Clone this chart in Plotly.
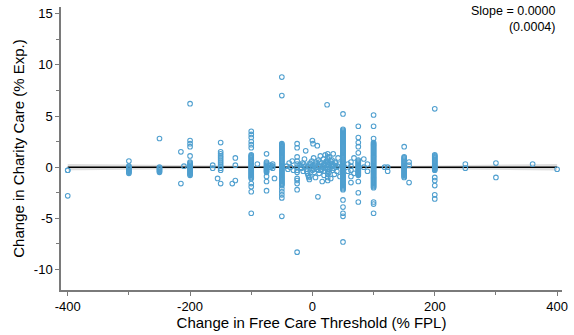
import numpy as np
import plotly.graph_objects as go

# ---- Observations: change in free-care threshold (x) and charity care (y) ----
# Points grouped by threshold change; y values in % of expenses.
col_m400_y = [-0.3, -2.8]
col_m300_y = [0.6, 0.1, 0.0, -0.1, -0.2, -0.3, -0.4, -0.5, -0.6]
col_m250_y = [2.8, 0.0, -0.1, -0.2, -0.3, -0.4, -0.5]
col_m200_y = [6.2, 2.6, 2.3, 2.0, 1.1, 0.5, 0.4, 0.3, 0.2, 0.1, 0.0, -0.1,
              -0.2, -0.3, -0.4, -0.5, -0.6, -0.7, -0.8]
col_m150_y = [2.4, 1.5, 1.3, 1.1, 0.9, 0.7, 0.5, 0.3, 0.1, -0.1, -0.3, -1.6]
col_m100_y = [3.5, 3.2, 2.9, 2.5, 2.2, 1.9, 1.2, 1.1, 1.0, 0.9, 0.8, 0.7,
              0.6, 0.5, 0.4, 0.3, 0.2, 0.1, 0.0, -0.1, -0.2, -0.3, -0.4,
              -0.5, -0.6, -0.7, -0.8, -0.9, -1.0, -1.1, -1.6, -1.9, -2.4, -4.5]
col_m75_y = [1.3, 0.5, 0.4, 0.3, 0.2, 0.1, 0.0, -0.1, -0.2, -0.3, -0.4,
             -0.5, -0.9, -1.4, -2.3]
col_m50_y = [8.8, 7.0, 2.3, 2.2, 2.1, 2.0, 1.9, 1.8, 1.7, 1.6, 1.5, 1.4,
             1.3, 1.2, 1.1, 1.0, 0.9, 0.8, 0.7, 0.6, 0.5, 0.4, 0.3, 0.2,
             0.1, 0.0, -0.1, -0.2, -0.3, -0.4, -0.5, -0.6, -0.7, -0.8, -0.9,
             -1.0, -1.1, -1.2, -1.3, -1.4, -1.5, -1.6, -1.7, -1.8, -2.1,
             -2.4, -2.7, -3.0, -4.8]
col_m25_y = [2.3, 1.9, 1.0, 0.6, 0.3, 0.0, -0.3, -0.5, -1.1, -1.3, -1.6,
             -2.2, -8.3]
col_25_y = [1.3, 1.0, 0.8, 0.5, 0.3, 0.0, -0.2, -0.4, -0.7, -1.0, -1.3]
col_50_y = [5.2, 3.7, 3.6, 3.5, 3.4, 3.3, 3.2, 3.1, 3.0, 2.9, 2.8, 2.7,
            2.6, 2.5, 2.4, 2.3, 2.2, 2.1, 2.0, 1.9, 1.8, 1.7, 1.6, 1.5,
            1.4, 1.3, 1.2, 1.1, 1.0, 0.9, 0.8, 0.7, 0.6, 0.5, 0.4, 0.3,
            0.2, 0.1, 0.0, -0.1, -0.2, -0.3, -0.4, -0.5, -0.6, -0.7, -0.8,
            -0.9, -1.0, -1.1, -1.2, -1.3, -1.4, -1.5, -1.6, -1.7, -1.8,
            -1.9, -2.0, -2.1, -2.2, -3.2, -3.9, -4.5, -4.8, -7.3]
col_75_y = [4.0, 2.9, 2.4, 2.0, 1.4, 0.7, 0.6, 0.5, 0.4, 0.3, 0.2, 0.1,
            0.0, -0.1, -0.2, -0.3, -0.4, -0.5, -0.6, -0.7, -0.8, -1.4,
            -2.5, -3.4]
col_100_y = [5.1, 4.0, 2.8, 2.4, 2.3, 2.2, 2.1, 2.0, 1.9, 1.8, 1.7, 1.6,
             1.5, 1.4, 1.3, 1.2, 1.1, 1.0, 0.9, 0.8, 0.7, 0.6, 0.5, 0.4,
             0.3, 0.2, 0.1, 0.0, -0.1, -0.2, -0.3, -0.4, -0.5, -0.6, -0.7,
             -0.8, -0.9, -1.0, -1.1, -1.2, -1.3, -1.4, -1.5, -1.6, -1.7,
             -1.8, -1.9, -2.0, -3.4, -3.6, -4.5]
col_150_y = [2.0, 1.0, 0.9, 0.8, 0.7, 0.6, 0.5, 0.4, 0.3, 0.2, 0.1, 0.0,
             -0.1, -0.2, -0.3, -0.4, -0.5, -0.6, -0.7, -0.8, -0.9, -1.0]
col_200_y = [5.7, 1.2, 1.1, 1.0, 0.9, 0.8, 0.7, 0.6, 0.5, 0.4, 0.3, 0.2,
             0.1, 0.0, -0.1, -0.2, -0.3, -1.0, -1.3, -1.8, -2.7, -3.1]
col_250_y = [0.3, -0.1]
col_300_y = [0.4, -1.0]

# Scattered observations that do not sit on a common threshold value
other_x = [-400, -215, -215, -210, -163, -163, -155, -126, -126, -126, -131,
           -90, -68, -68, -65, -65, -65, -62,
           -42, -40, -38, -36, -33, -31,
           -20, -19, -18, -16, -15, -14, -13, -12, -11, -10, -9, -8, -7,
           -6, -6, -5, -4, -4, -3, -2, -1, 0, 0, 0, 1, 2, 2, 3, 4, 5, 5,
           6, 7, 8, 8, 9, 10, 10, 11, 12, 12, 13, 14, 15, 15, 16, 17, 18,
           18, 19, 20, 20, 21, 22, 22, 23, 24, 26, 27, 28, 28, 29, 30, 30,
           31, 32, 33, 33, 34, 35, 35, 36, 37, 38, 38, 40, 41, 42, 44, 45,
           58, 58, 63, 63, 63, 63, 63, 68, 68, 84, 84, 90, 90, 118, 123,
           123, 158, 158, 158, 360, 400]
other_y = [-0.3, 1.5, -1.6, 0.1, 0.2, -0.1, -1.1, 0.9, 0.2, -1.3, -1.6,
           0.3, 0.2, 0.0, 0.3, 0.1, -0.1, -1.1,
           0.1, -0.2, 0.4, 0.0, 0.6, -0.3,
           0.2, 0.0, -0.1, 0.4, -0.4, 0.3, 0.8, 0.1, 1.6, -0.2, -0.4, -0.6,
           -0.8, -1.0, 0.1, -1.2, -0.9, 0.4, 0.3, -0.1, 0.6, 2.6, -0.3, 0.1,
           2.3, 0.9, -0.2, -0.5, 0.2, -1.0, 0.3, 0.5, -0.2, 2.1, 0.0, -2.9,
           0.7, -0.3, -0.6, 0.1, 0.5, 1.1, -0.3, 0.4, -0.2, -1.4, 0.0, 0.8,
           0.2, -0.8, 0.3, -0.4, 1.2, -0.1, 0.5, 0.6, 6.1, 0.2, -0.5, 1.0,
           -0.2, 0.4, -1.1, 0.6, 0.1, 0.7, -0.3, 0.3, 1.3, 0.2, -0.1, -0.7,
           0.5, 0.0, 0.4, -0.4, 0.1, 0.9, 0.3, -0.9,
           0.3, -0.4, 0.5, 0.1, -0.3, -0.9, -1.5, 0.9, -0.6, 0.0, 0.8, -0.4,
           0.3, 0.0, 0.0, -0.4, 0.5, 0.2, -1.5, 0.3, -0.2]

# Linear fit summary
slope = 0.0000
slope_se = 0.0004
intercept = 0.0
intercept_se = 0.03
fit_x_min, fit_x_max = -400, 400

# Axis ticks
x_tickvals = [-400, -200, 0, 200, 400]
x_ticktext = ["-400", "-200", "0", "200", "400"]
y_tickvals = [-10, -5, 0, 5, 10, 15]
y_ticktext = ["-10", "-5", "0", "5", "10", "15"]

# ---- assemble points ----
columns = [(-400, col_m400_y), (-300, col_m300_y), (-250, col_m250_y),
           (-200, col_m200_y), (-150, col_m150_y), (-100, col_m100_y),
           (-75, col_m75_y), (-50, col_m50_y), (-25, col_m25_y),
           (25, col_25_y), (50, col_50_y), (75, col_75_y), (100, col_100_y),
           (150, col_150_y), (200, col_200_y), (250, col_250_y),
           (300, col_300_y)]
xs, ys = [], []
for xv, yl in columns:
    xs += [xv] * len(yl)
    ys += yl
xs += other_x
ys += other_y

# ---- fitted line with 95% band ----
fx = np.linspace(fit_x_min, fit_x_max, 81)
fy = intercept + slope * fx
half = 1.96 * np.sqrt(intercept_se ** 2 + (fx * slope_se) ** 2)

POINT = "#4f9fcf"
AXIS = "#7a7a7a"
FONT = "Liberation Sans, Arial, Helvetica, sans-serif"

fig = go.Figure()
fig.add_trace(go.Scatter(
    x=np.concatenate([fx, fx[::-1]]),
    y=np.concatenate([fy + half, (fy - half)[::-1]]),
    fill="toself", fillcolor="rgba(200,200,200,0.6)",
    line=dict(width=0), hoverinfo="skip", showlegend=False))
fig.add_trace(go.Scatter(
    x=fx, y=fy, mode="lines", line=dict(color="black", width=1.6),
    showlegend=False))
fig.add_trace(go.Scatter(
    x=xs, y=ys, mode="markers",
    marker=dict(symbol="circle-open", size=4.6, color=POINT,
                line=dict(width=1.1, color=POINT)),
    showlegend=False))

fig.update_layout(
    width=574, height=335,
    margin=dict(l=61, r=6, t=7, b=44),
    plot_bgcolor="white", paper_bgcolor="white",
    font=dict(family=FONT, size=13, color="black"),
    showlegend=False,
)
fig.update_xaxes(
    range=[-411, 408], showgrid=False, zeroline=False,
    showline=True, linecolor=AXIS, linewidth=1.5,
    ticks="outside", ticklen=4, tickcolor=AXIS, tickwidth=1,
    tickvals=x_tickvals, ticktext=x_ticktext,
    tickfont=dict(size=13),
    minor=dict(tickvals=[-300, -100, 100, 300], ticks="outside",
               ticklen=3, tickcolor=AXIS, showgrid=False),
    title=dict(text="Change in Free Care Threshold (% FPL)",
               font=dict(size=15), standoff=4),
)
fig.update_yaxes(
    range=[-12.0, 15.65], showgrid=False, zeroline=False,
    showline=True, linecolor=AXIS, linewidth=1.5,
    ticks="outside", ticklen=4, tickcolor=AXIS, tickwidth=1,
    tickvals=y_tickvals, ticktext=y_ticktext,
    tickfont=dict(size=13),
    minor=dict(tickvals=[-7.5, -2.5, 2.5, 7.5, 12.5], ticks="outside",
               ticklen=3, tickcolor=AXIS, showgrid=False),
    title=dict(text="Change in Charity Care (% Exp.)",
               font=dict(size=15), standoff=6),
)

# Slope estimate with its standard error underneath
fig.add_annotation(
    xref="paper", yref="paper", x=0.99, y=0.958,
    xanchor="right", yanchor="middle", align="right", showarrow=False,
    text=f"Slope = {slope:.4f}<br>({slope_se:.4f})", font=dict(size=12.5))

fig.write_html("out.html")
